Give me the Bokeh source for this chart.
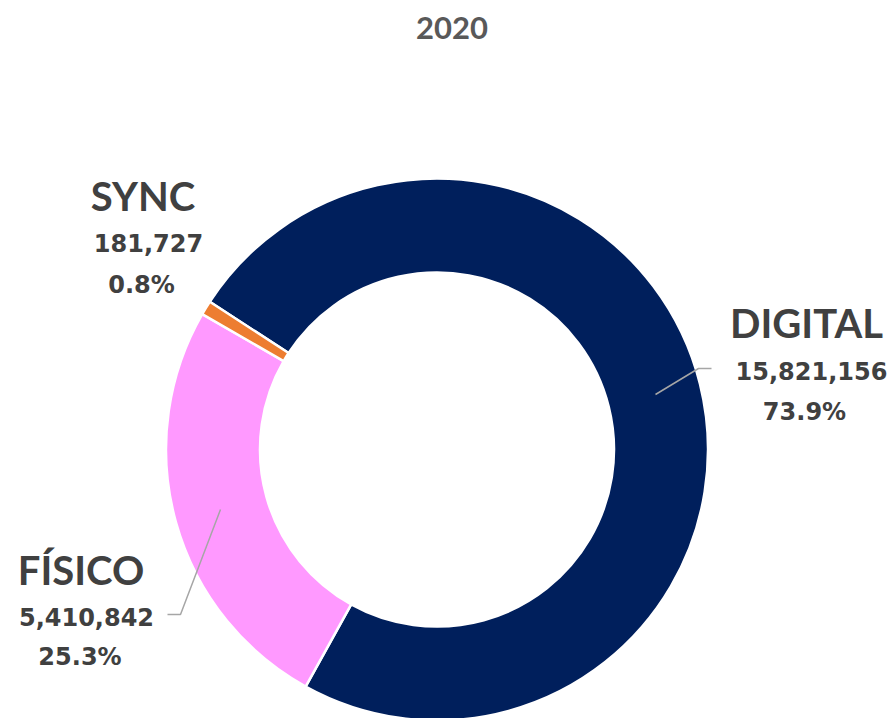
import numpy as np
from bokeh.plotting import figure
from bokeh.models import Range1d, ColumnDataSource
from bokeh.core.properties import value
from bokeh.embed import file_html
from bokeh.resources import INLINE

# ---- data ----
title = "2020"
categories = ["DIGITAL", "FÍSICO", "SYNC"]
values = [15821156, 5410842, 181727]
colors = ["#001F5C", "#FF99FF", "#ED7D31"]

# ---- layout (page-pixel based) ----
W, H = 895, 718
def X(px): return px
def Y(py): return H - py

cx, cy = X(436.5), Y(449)
r_out, r_in = 271, 177
first_angle = np.deg2rad(146.98)

vals = np.array(values, dtype=float)
frac = vals / vals.sum()
ang = frac * 2 * np.pi
starts = first_angle - np.concatenate([[0], np.cumsum(ang)[:-1]])
ends = starts - ang

p = figure(width=W, height=H, output_backend="svg", toolbar_location=None,
           x_range=Range1d(0, W), y_range=Range1d(0, H),
           min_border=0, outline_line_color=None)
p.axis.visible = False
p.grid.visible = False
p.background_fill_color = "white"

src = ColumnDataSource(dict(start=starts, end=ends, color=colors, cat=categories))
p.annular_wedge(x=cx, y=cy, inner_radius=r_in, outer_radius=r_out,
                start_angle="start", end_angle="end", direction="clock",
                fill_color="color", line_color="white", line_width=2.5, source=src)

# leader lines
lead = "#A6A6A6"
p.line([X(655), X(698), X(711)], [Y(394), Y(368), Y(368)], line_color=lead, line_width=1.5)
p.line([X(220), X(180), X(167)], [Y(509), Y(614), Y(614)], line_color=lead, line_width=1.5)

# labels
label_pos = {
    "DIGITAL": ((806, 322), (811, 370), (804, 411)),
    "FÍSICO": ((80.5, 569), (86, 616), (79.5, 656.5)),
    "SYNC": ((142.5, 195), (148, 242.5), (141, 284)),
}
txt = "#404040"
lab_font = value("Lato")
num_font = value("DejaVu Sans")
for cat, v, f in zip(categories, values, frac):
    (a, b, c) = label_pos[cat]
    p.text(x=[X(a[0])], y=[Y(a[1])], text=[cat], text_font=lab_font,
           text_font_style="bold", text_font_size="40px", text_color=txt,
           text_align="center", text_baseline="middle")
    p.text(x=[X(b[0])], y=[Y(b[1])], text=[f"{v:,}"], text_font=num_font,
           text_font_style="bold", text_font_size="24px", text_color=txt,
           text_align="center", text_baseline="middle")
    p.text(x=[X(c[0])], y=[Y(c[1])], text=[f"{f*100:.1f}%"], text_font=num_font,
           text_font_style="bold", text_font_size="24px", text_color=txt,
           text_align="center", text_baseline="middle")

p.text(x=[X(451.5)], y=[Y(27)], text=[title], text_font=lab_font,
       text_font_style="bold", text_font_size="31px", text_color="#595959",
       text_align="center", text_baseline="middle")

open("out.html", "w").write(file_html(p, INLINE))
